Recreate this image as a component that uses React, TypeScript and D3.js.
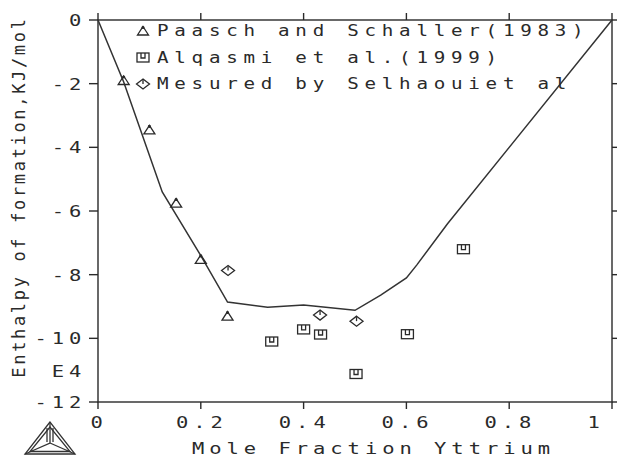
import React, { useEffect, useRef } from "react";
import * as d3 from "d3";

// calculated enthalpy curve (mole fraction Y, kJ/mol)
const curve: [number, number][] = [
  [0, 0],
  [0.05, -1.95],
  [0.125, -5.4],
  [0.2, -7.4],
  [0.252, -8.86],
  [0.33, -9.02],
  [0.4, -8.95],
  [0.5, -9.12],
  [0.55, -8.64],
  [0.6, -8.1],
  [0.62, -7.7],
  [0.68, -6.4],
  [1, 0],
];

const paasch: [number, number][] = [
  [0.05, -1.9],
  [0.1, -3.45],
  [0.152, -5.75],
  [0.2, -7.52],
  [0.252, -9.3],
];

const alqasmi: [number, number][] = [
  [0.338, -10.1],
  [0.4, -9.72],
  [0.433, -9.88],
  [0.502, -11.12],
  [0.602, -9.87],
  [0.711, -7.2],
];

const selhaoui: [number, number][] = [
  [0.253, -7.87],
  [0.432, -9.27],
  [0.503, -9.46],
];

const legendLabels = [
  "Paasch and Schaller(1983)",
  "Alqasmi et al.(1999)",
  "Mesured by Selhaouiet al",
];

const xTicks = [0, 0.2, 0.4, 0.6, 0.8, 1];
const xTickLabels = ["0", "0.2", "0.4", "0.6", "0.8", "1"];
const yTicks = [0, -2, -4, -6, -8, -10, -12];
const yTickLabels = ["0", "-2", "-4", "-6", "-8", "-10", "-12"];

const xTitle = "Mole Fraction Yttrium";
const yTitle = "Enthalpy of formation,KJ/mol";
const yUnitNote = "E4";

const width = 617;
const height = 458;
const left = 98;
const right = 612;
const top = 20;
const bottom = 402;

const FONT = "'DejaVu Sans Mono', monospace";
const INK = "#2a2a2a";

// wide pixel-ish mono text: fixed pitch per character, glyphs stretched
const PITCH = 17.3;
const SX = 1.28;

const textW = (s: string, p = PITCH, g = 11) => (s.length - 1) * p + g;

const App: React.FC = () => {
  const svgRef = useRef<SVGSVGElement>(null);

  useEffect(() => {
    if (!svgRef.current) return;
    const svg = d3.select(svgRef.current);
    svg.selectAll("*").remove();

    const x = d3.scaleLinear().domain([0, 1]).range([left, right]);
    const y = d3.scaleLinear().domain([-12, 0]).range([bottom, top]);

    const addText = (s: string, x0: number, y0: number, size = 15, p = PITCH) =>
      svg
        .append("text")
        .attr("transform", `translate(${x0},${y0}) scale(${SX},1)`)
        .attr("font-family", FONT)
        .attr("font-size", size)
        .attr("letter-spacing", p / SX - size * 0.602)
        .attr("fill", INK)
        .text(s);

    // frame + ticks
    const axisG = svg
      .append("g")
      .attr("stroke", INK)
      .attr("stroke-width", 1.4)
      .attr("fill", "none");
    axisG
      .append("rect")
      .attr("x", x(0))
      .attr("y", y(0))
      .attr("width", x(1) - x(0))
      .attr("height", y(-12) - y(0));

    xTicks.forEach((t) => {
      axisG
        .append("line")
        .attr("x1", x(t))
        .attr("x2", x(t))
        .attr("y1", y(-12))
        .attr("y2", y(-12) + 7);
      axisG
        .append("line")
        .attr("x1", x(t))
        .attr("x2", x(t))
        .attr("y1", y(0))
        .attr("y2", y(0) - 7);
    });
    yTicks.forEach((t) => {
      axisG
        .append("line")
        .attr("x1", x(0) - 9)
        .attr("x2", x(0))
        .attr("y1", y(t))
        .attr("y2", y(t));
      axisG
        .append("line")
        .attr("x1", x(1))
        .attr("x2", x(1) + 6)
        .attr("y1", y(t))
        .attr("y2", y(t));
    });

    // tick labels
    xTicks.forEach((t, i) => {
      const s = xTickLabels[i];
      const cx = t === 1 ? x(t) - 19 : x(t) - 2;
      addText(s, cx - textW(s) / 2, 428, 16);
    });
    yTicks.forEach((t, i) => {
      const s = yTickLabels[i];
      addText(s, 80 - textW(s), y(t) + 6, 16);
    });
    addText(yUnitNote, 80 - textW(yUnitNote), 377, 16);

    // axis titles
    addText(xTitle, 192, 454, 16);
    const yLen = textW(yTitle, 12.9, 10);
    svg
      .append("text")
      .attr("transform", `translate(25, ${(20 + 377) / 2 + yLen / 2}) rotate(-90)`)
      .attr("font-family", FONT)
      .attr("font-size", 17)
      .attr("letter-spacing", 12.9 - 17 * 0.602)
      .attr("fill", INK)
      .text(yTitle);

    // calculated curve
    const line = d3
      .line<[number, number]>()
      .x((d) => x(d[0]))
      .y((d) => y(d[1]));
    svg
      .append("path")
      .datum(curve)
      .attr("fill", "none")
      .attr("stroke", "#333")
      .attr("stroke-width", 1.5)
      .attr("d", line);

    // markers
    type G = d3.Selection<SVGGElement, unknown, null, undefined>;
    const tri = (g: G) => {
      g.append("path").attr("d", "M0,-4.5 L5.5,4 L-5.5,4 Z");
      g.append("circle").attr("cx", 0).attr("cy", -3.5).attr("r", 0.9).attr("fill", INK);
    };
    const sq = (g: G) => {
      g.append("rect").attr("x", -6).attr("y", -4.5).attr("width", 12).attr("height", 9);
      g.append("path").attr("d", "M-2,-4.5 V0.5 H2 V-4.5");
    };
    const dia = (g: G) => {
      g.append("path").attr("d", "M0,-5 L6.5,0 L0,5 L-6.5,0 Z");
      g.append("path").attr("d", "M0,-4 V0");
    };

    const drawSet = (pts: [number, number][], shape: (g: G) => void) => {
      pts.forEach((d) => {
        const g = svg
          .append("g")
          .attr("transform", `translate(${x(d[0])},${y(d[1])})`)
          .attr("fill", "none")
          .attr("stroke", INK)
          .attr("stroke-width", 1.3);
        shape(g);
      });
    };
    drawSet(paasch, tri);
    drawSet(alqasmi, sq);
    drawSet(selhaoui, dia);

    // legend
    const shapes = [tri, sq, dia];
    legendLabels.forEach((s, i) => {
      const base = 36 + i * 26.5;
      const g = svg
        .append("g")
        .attr("transform", `translate(143,${base - 5})`)
        .attr("fill", "none")
        .attr("stroke", INK)
        .attr("stroke-width", 1.3);
      shapes[i](g);
      addText(s, 157, base, 15);
    });

    // Thermo-Calc logo
    const logo = svg
      .append("g")
      .attr("fill", "none")
      .attr("stroke", "#333")
      .attr("stroke-width", 1.3);
    const A: [number, number] = [50, 422];
    const B: [number, number] = [25, 454];
    const C: [number, number] = [75, 454];
    const O: [number, number] = [50, 443];
    const tri3 = (p: [number, number][]) =>
      `M${p[0][0]},${p[0][1]} L${p[1][0]},${p[1][1]} L${p[2][0]},${p[2][1]} Z`;
    logo.append("path").attr("d", tri3([A, B, C]));
    logo.append("path").attr("d", tri3([[50, 427], [30, 451.5], [70, 451.5]]));
    logo
      .append("path")
      .attr("d", `M${A[0]},${A[1]} L${O[0]},${O[1]} L${B[0]},${B[1]} M${O[0]},${O[1]} L${C[0]},${C[1]}`);
    logo.append("path").attr("d", "M47,428 L47,442 M53,428 L53,442");
  }, []);

  return (
    <svg
      ref={svgRef}
      width={width}
      height={height}
      style={{ position: "absolute", left: 0, top: 0, background: "#fff" }}
    />
  );
};

export default App;
